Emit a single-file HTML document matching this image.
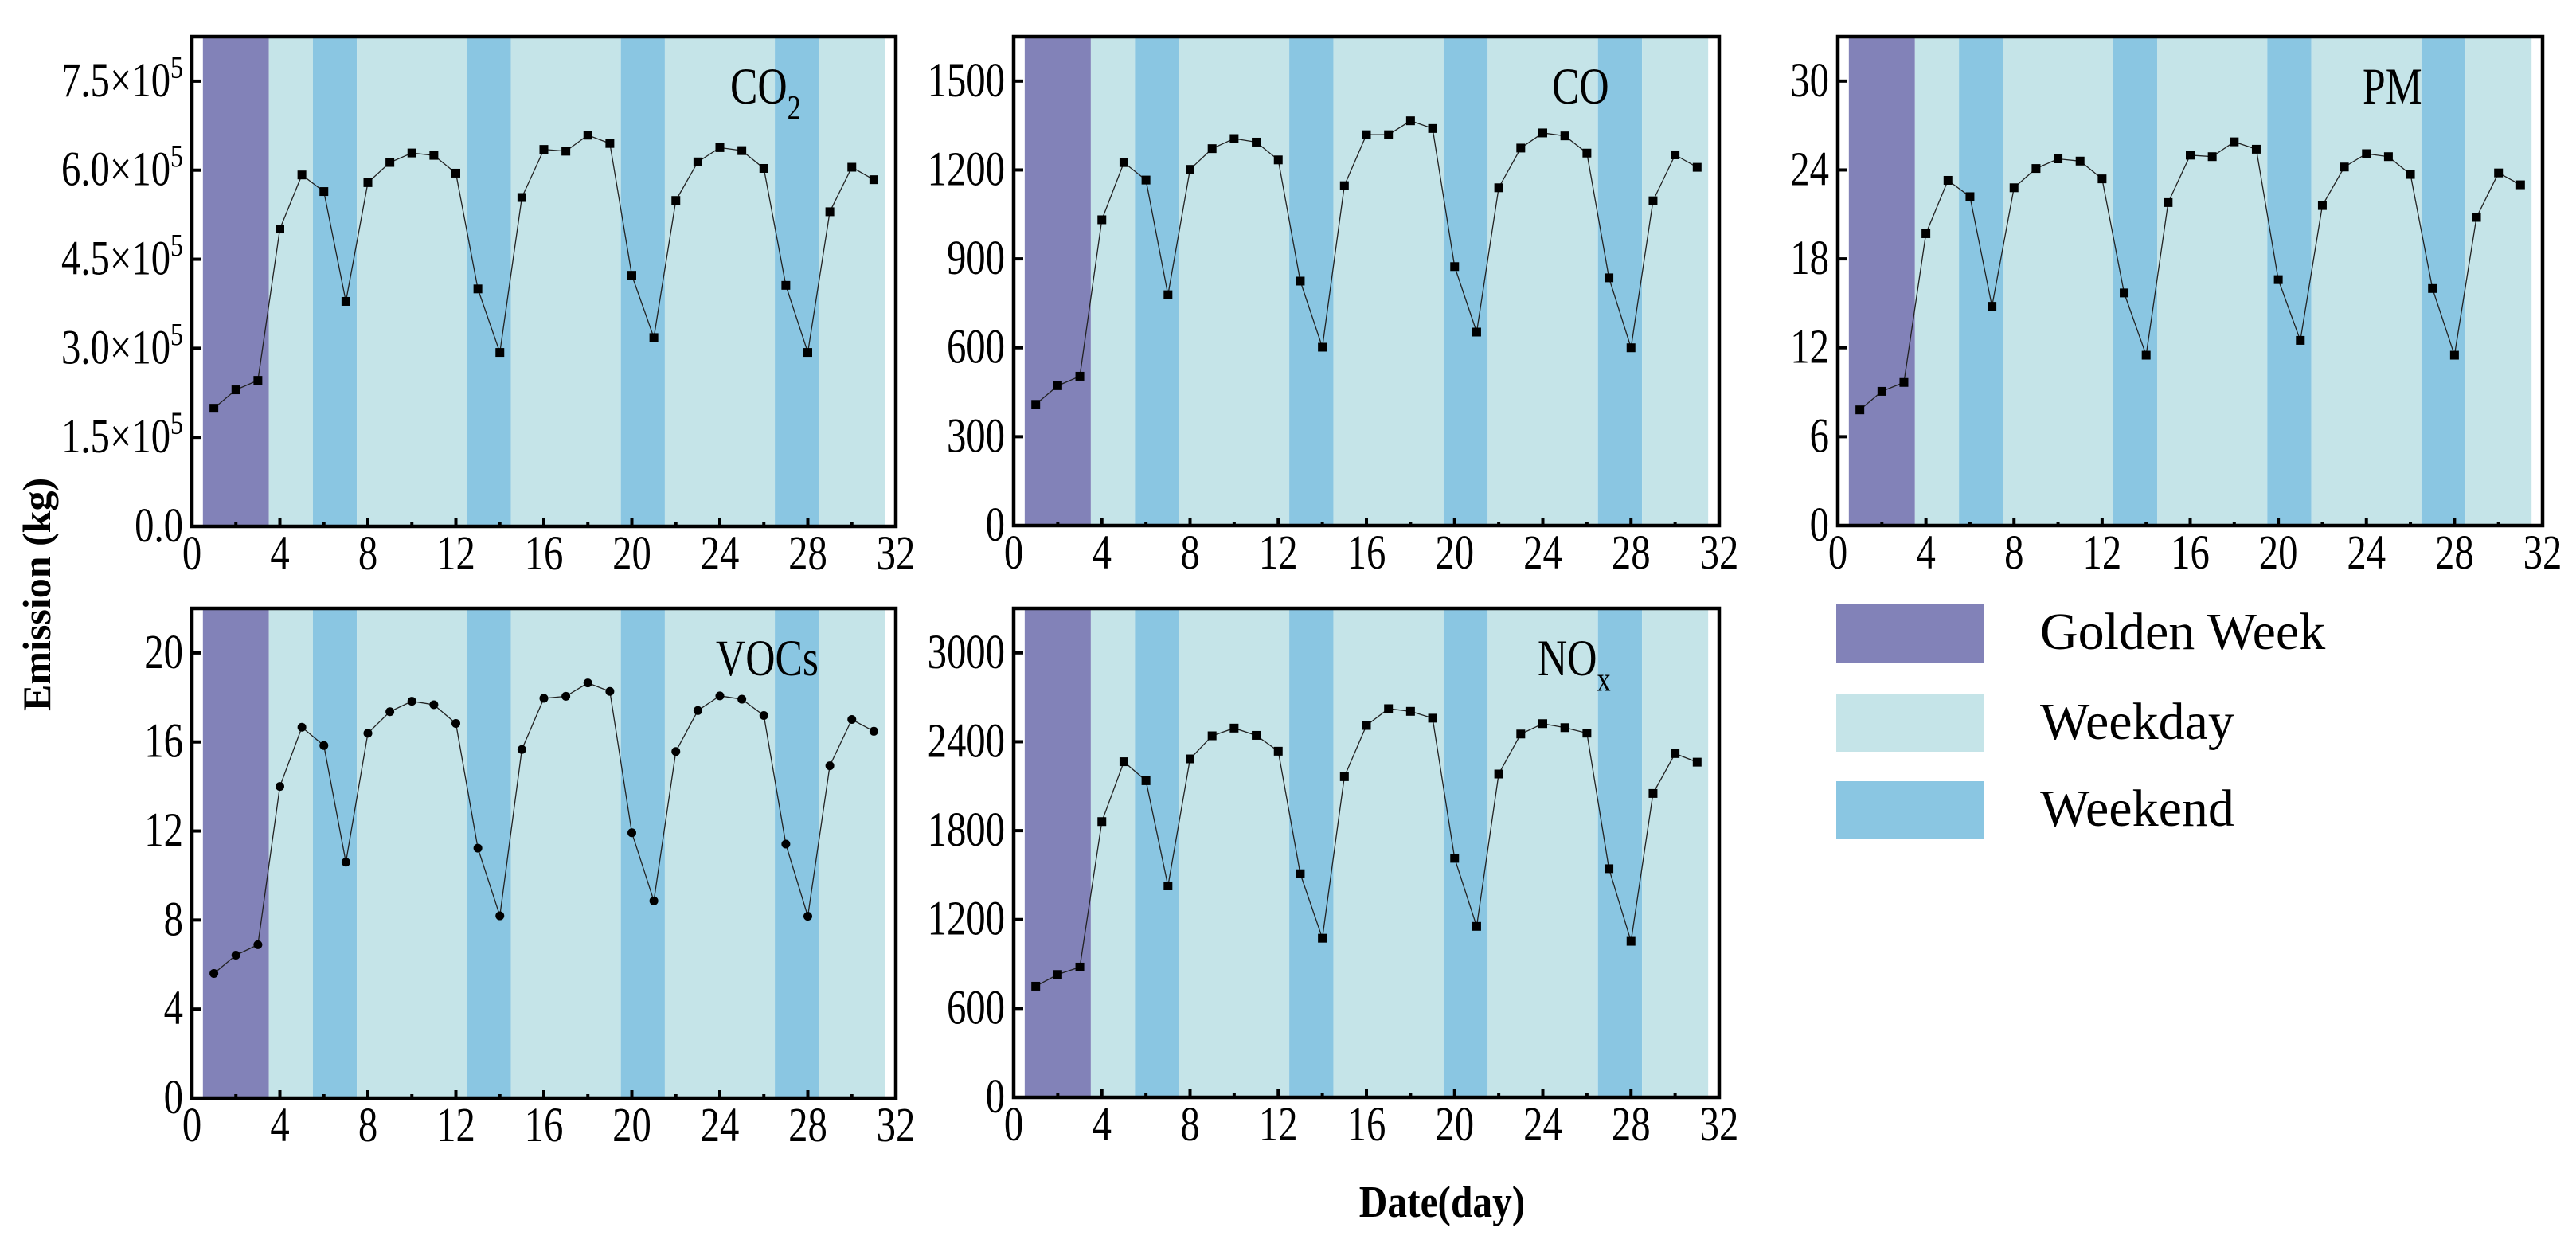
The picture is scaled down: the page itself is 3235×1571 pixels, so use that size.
<!DOCTYPE html>
<html><head><meta charset="utf-8"><style>
html,body{margin:0;padding:0;background:#fff;}
svg{display:block;font-family:"Liberation Serif",serif;}
</style></head><body>
<svg id="fig" width="3235" height="1571" viewBox="0 0 3235 1571" xmlns="http://www.w3.org/2000/svg">
<text x="0" y="0" transform="translate(63,893) rotate(-90)" font-size="50" font-weight="bold">Emission (kg)</text>
<text x="0" y="0" transform="translate(1811,1528) scale(0.95,1.08)" text-anchor="middle" font-size="52" font-weight="bold">Date(day)</text>
<g>
<rect x="2306" y="759" width="186" height="73" fill="#8282b8"/>
<text x="2562" y="815" font-size="66">Golden Week</text>
<rect x="2306" y="872" width="186" height="72" fill="#c5e4e8"/>
<text x="2562" y="928" font-size="66">Weekday</text>
<rect x="2306" y="981" width="186" height="73" fill="#8ac6e2"/>
<text x="2562" y="1037" font-size="66">Weekend</text>
</g>
</svg>
<script>
const days = [1,2,3,4,5,6,7,8,9,10,11,12,13,14,15,16,17,18,19,20,21,22,23,24,25,26,27,28,29,30,31];
const co2 = [1.99,2.30,2.46,5.01,5.92,5.64,3.79,5.79,6.13,6.29,6.25,5.95,4.00,2.93,5.54,6.35,6.32,6.59,6.45,4.23,3.18,5.49,6.14,6.38,6.33,6.03,4.06,2.93,5.30,6.05,5.84];
const co = [409,472,504,1032,1225,1166,779,1202,1272,1306,1294,1234,825,602,1147,1319,1319,1366,1340,874,653,1140,1274,1325,1315,1257,836,600,1096,1251,1209];
const pm = [7.81,9.06,9.66,19.7,23.3,22.2,14.8,22.8,24.1,24.75,24.6,23.4,15.7,11.5,21.8,25.0,24.9,25.9,25.4,16.6,12.5,21.6,24.2,25.1,24.9,23.7,16.0,11.5,20.8,23.8,23.0];
const vocs = [5.6,6.42,6.89,14.0,16.66,15.84,10.6,16.39,17.36,17.83,17.67,16.83,11.23,8.19,15.66,17.96,18.05,18.65,18.27,11.92,8.86,15.57,17.41,18.07,17.92,17.19,11.41,8.17,14.93,17.01,16.48];
const nox = [750,829,879,1861,2265,2137,1427,2284,2440,2492,2443,2336,1509,1074,2164,2510,2623,2605,2559,1613,1154,2182,2452,2522,2495,2458,1543,1053,2051,2320,2262];
const bandStarts = [0.5,3.5,5.5,7.5,12.5,14.5,19.5,21.5,26.5,28.5];
const bandEnds = [3.5,5.5,7.5,12.5,14.5,19.5,21.5,26.5,28.5,31.5];
const bandTypes = ["golden","weekday","weekend","weekday","weekend","weekday","weekend","weekday","weekend","weekday"];
const xTicks = [0,4,8,12,16,20,24,28,32];
const co2Ticks = [0,1.5,3.0,4.5,6.0,7.5];
const coTicks = [0,300,600,900,1200,1500];
const pmTicks = [0,6,12,18,24,30];
const vocTicks = [0,4,8,12,16,20];
const noxTicks = [0,600,1200,1800,2400,3000];

const NS="http://www.w3.org/2000/svg";
const svg=document.getElementById('fig');
const colors={golden:"#8282b8",weekday:"#c5e4e8",weekend:"#8ac6e2"};
function mk(tag,attrs,parent){const e=document.createElementNS(NS,tag);for(const k in attrs)e.setAttribute(k,attrs[k]);(parent||svg).appendChild(e);return e;}

const panels=[
 {key:"co2",vals:co2,ticks:co2Ticks,ymax:8.25,L:241,R:1125,T:46,B:661,title:"CO",sub:"2",sci:true,marker:"square",tx:-208},
 {key:"co",vals:co,ticks:coTicks,ymax:1650,L:1273,R:2159,T:46,B:660,title:"CO",sub:"",marker:"square",tx:-210},
 {key:"pm",vals:pm,ticks:pmTicks,ymax:33,L:2308,R:3193,T:46,B:660,title:"PM",sub:"",marker:"square",tx:-226},
 {key:"vocs",vals:vocs,ticks:vocTicks,ymax:22,L:241,R:1125,T:764,B:1379,title:"VOCs",sub:"",marker:"circle",tx:-226},
 {key:"nox",vals:nox,ticks:noxTicks,ymax:3300,L:1273,R:2159,T:764,B:1378,title:"NO",sub:"x",marker:"square",tx:-228}
];
const SX=0.84;
panels.forEach(p=>{
 const g=mk('g',{});
 
 
 const xs=v=>p.L+(v/32)*(p.R-p.L);
 const ys=v=>p.B-(v/p.ymax)*(p.B-p.T);
 bandStarts.forEach((s,i)=>{
  const r=mk('rect',{x:xs(s),y:p.T,width:xs(bandEnds[i])-xs(s),height:p.B-p.T,fill:colors[bandTypes[i]]},g);
  
  
 });
 const pts=days.map((d,i)=>xs(d)+","+ys(p.vals[i])).join(" ");
 const pl=mk('polyline',{points:pts,fill:"none",stroke:"#222",'stroke-width':1.3},g);
 
 
 days.forEach((d,i)=>{
  let m;
  if(p.marker==="circle") m=mk('circle',{cx:xs(d),cy:ys(p.vals[i]),r:5.5,fill:"#000"},g);
  else m=mk('rect',{x:xs(d)-5.5,y:ys(p.vals[i])-5.5,width:11,height:11,fill:"#000"},g);
  
  
 });
 for(let v=2;v<32;v+=2){
  const major=v%4===0;
  const t=mk('line',{x1:xs(v),x2:xs(v),y1:p.B,y2:p.B-(major?10:5),stroke:"#000",'stroke-width':4},g);
  
  
 }
 xTicks.forEach(v=>{
  const t=mk('text',{x:0,y:0,transform:`translate(${xs(v)},${p.B+54}) scale(${SX},1.05)`,'text-anchor':'middle','font-size':58},g);
  t.textContent=v;
  
  
 });
 p.ticks.forEach(v=>{
  const y=ys(v);
  const t=mk('line',{x1:p.L,x2:p.L+12,y1:y,y2:y,stroke:"#000",'stroke-width':4},g);
  
  
  const tx=mk('text',{x:0,y:0,transform:`translate(${p.L-11},${y+19}) scale(${SX},1.05)`,'text-anchor':'end','font-size':58},g);
  
  
  if(p.sci){
   tx.textContent=v.toFixed(1)+(v===0?"":"\u00d710");
   if(v!==0){const s=mk('tspan',{dy:-22,'font-size':38},tx);s.textContent="5";}
  } else tx.textContent=v;
 });
 const f=mk('rect',{x:p.L,y:p.T,width:p.R-p.L,height:p.B-p.T,fill:"none",stroke:"#000",'stroke-width':4.5},g);
 
 
 const tt=mk('text',{x:0,y:0,transform:`translate(${p.R+p.tx},${p.T+84}) scale(0.86,1.08)`,'font-size':60},g);
 tt.textContent=p.title;
 
 
 if(p.sub){const s=mk('tspan',{dy:18,'font-size':40},tt);s.textContent=p.sub;}
});
</script>
</body></html>
